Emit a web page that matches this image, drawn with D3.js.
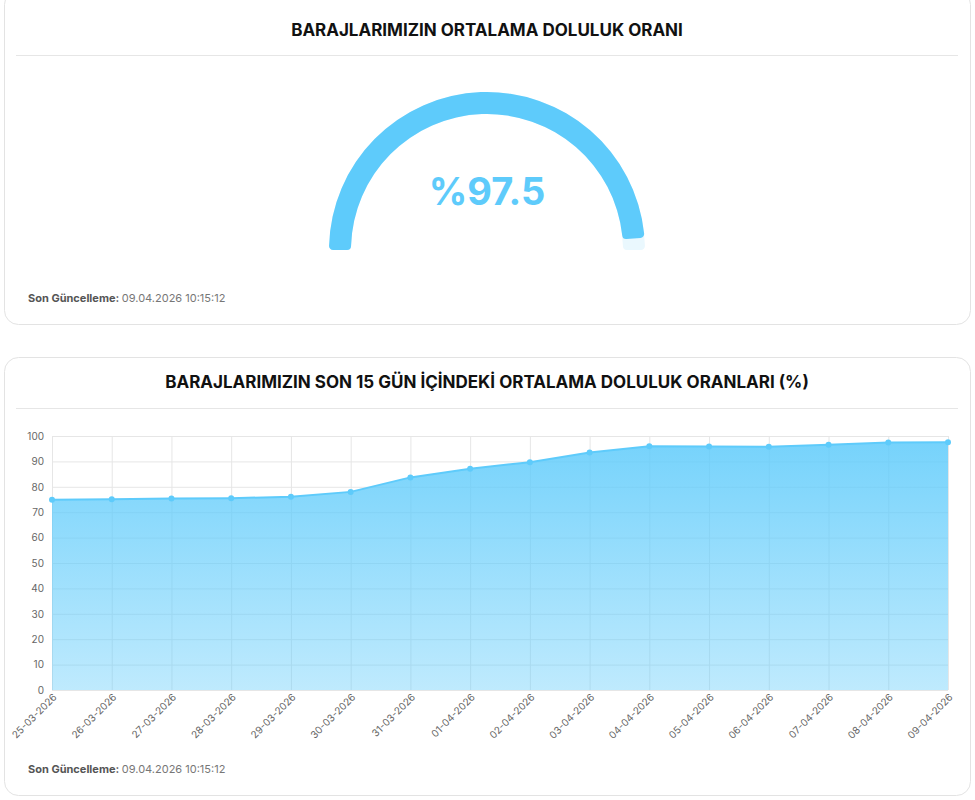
<!DOCTYPE html>
<html>
<head>
<meta charset="utf-8">
<script src="https://cdn.jsdelivr.net/npm/d3@7"></script>
<style>
  body { margin: 0; background: #fff; font-family: Inter, "Noto Sans", sans-serif; }
</style>
</head>
<body>
<svg id="chart" width="975" height="800"></svg>
<script>
// gauge value
const gaugeValue = 97.5;
const updated = "09.04.2026 10:15:12";

// last 15 days
const dates = ["25-03-2026","26-03-2026","27-03-2026","28-03-2026","29-03-2026","30-03-2026","31-03-2026","01-04-2026",
  "02-04-2026","03-04-2026","04-04-2026","05-04-2026","06-04-2026","07-04-2026","08-04-2026","09-04-2026"];
const levels = [74.9, 75.1, 75.4, 75.5, 76.1, 78.0, 83.7, 87.1, 89.7, 93.5, 96.0, 95.9, 95.8, 96.6, 97.4, 97.5];
const yTicks = [0,10,20,30,40,50,60,70,80,90,100];

const svg = d3.select("#chart");
const blue = "#5ecbfb";

// cards
const cards = [{y: -10, h: 334, title: "BARAJLARIMIZIN ORTALAMA DOLULUK ORANI", ty: 31, ly: 55},
               {y: 357, h: 438, title: "BARAJLARIMIZIN SON 15 GÜN İÇİNDEKİ ORTALAMA DOLULUK ORANLARI (%)", ty: 383, ly: 408}];
cards.forEach(c => {
  svg.append("rect").attr("x", 4.5).attr("y", c.y + 0.5).attr("width", 966).attr("height", c.h)
    .attr("rx", 14).attr("fill", "#fff").attr("stroke", "#e3e3e3");
  svg.append("text").attr("x", 487).attr("y", c.ty).attr("text-anchor", "middle").attr("dominant-baseline", "middle")
    .attr("font-size", 17).attr("font-weight", 700).attr("fill", "#111").text(c.title);
  svg.append("line").attr("x1", 16).attr("x2", 958).attr("y1", c.ly + 0.5).attr("y2", c.ly + 0.5).attr("stroke", "#e6e6e6");
});

// footers
[302, 773].forEach(y => {
  const t = svg.append("text").attr("x", 28).attr("y", y).attr("font-size", 11).attr("fill", "#777");
  t.append("tspan").attr("font-weight", 700).attr("fill", "#555").text("Son Güncelleme: ");
  t.append("tspan").text(updated);
});

// gauge
const g = svg.append("g").attr("transform", "translate(487,250)");
const arc = d3.arc().innerRadius(136).outerRadius(158).cornerRadius(4);
const ang = d3.scaleLinear().domain([0, 100]).range([-Math.PI / 2, Math.PI / 2]);
g.append("path").attr("d", arc({startAngle: -Math.PI / 2, endAngle: Math.PI / 2})).attr("fill", "#eaf8fe");
g.append("path").attr("d", arc({startAngle: ang(0), endAngle: ang(gaugeValue)})).attr("fill", blue);
g.append("text").attr("y", -55).attr("text-anchor", "middle").attr("dominant-baseline", "middle")
  .attr("font-size", 38).attr("font-weight", 700).attr("fill", blue).text("%" + gaugeValue);

// area chart
const m = {l: 52, r: 948, t: 436, b: 690};
const x = d3.scalePoint().domain(dates).range([m.l, m.r]);
const y = d3.scaleLinear().domain([0, 100]).range([m.b, m.t]);

const defs = svg.append("defs");
const grad = defs.append("linearGradient").attr("id", "fill").attr("x1", 0).attr("x2", 0).attr("y1", 0).attr("y2", 1);
grad.append("stop").attr("offset", "0%").attr("stop-color", "#5ecbfb").attr("stop-opacity", 0.85);
grad.append("stop").attr("offset", "100%").attr("stop-color", "#5ecbfb").attr("stop-opacity", 0.4);

const gy = svg.append("g").attr("transform", `translate(${m.l},0)`)
  .call(d3.axisLeft(y).tickValues(yTicks).tickSize(-(m.r - m.l)).tickPadding(8));
const gx = svg.append("g").attr("transform", `translate(0,${m.b})`)
  .call(d3.axisBottom(x).tickSize(-(m.b - m.t)).tickPadding(6));
[gx, gy].forEach(a => {
  a.select(".domain").remove();
  a.selectAll(".tick line").attr("stroke", "#e6e6e6");
  a.selectAll("text").attr("font-size", 10).attr("fill", "#666").attr("font-family", "Inter, sans-serif");
});
gx.selectAll("text").attr("text-anchor", "end").attr("dx", "-0.2em").attr("dy", "0.3em")
  .attr("transform", "rotate(-45)");

svg.append("path").datum(levels)
  .attr("d", d3.area().x((d, i) => x(dates[i])).y0(y(0)).y1(d => y(d)))
  .attr("fill", "url(#fill)");
svg.append("path").datum(levels)
  .attr("d", d3.line().x((d, i) => x(dates[i])).y(d => y(d)))
  .attr("fill", "none").attr("stroke", blue).attr("stroke-width", 2);
svg.selectAll("circle.pt").data(levels).join("circle").attr("class", "pt")
  .attr("cx", (d, i) => x(dates[i])).attr("cy", d => y(d)).attr("r", 3).attr("fill", blue);
</script>
</body>
</html>
